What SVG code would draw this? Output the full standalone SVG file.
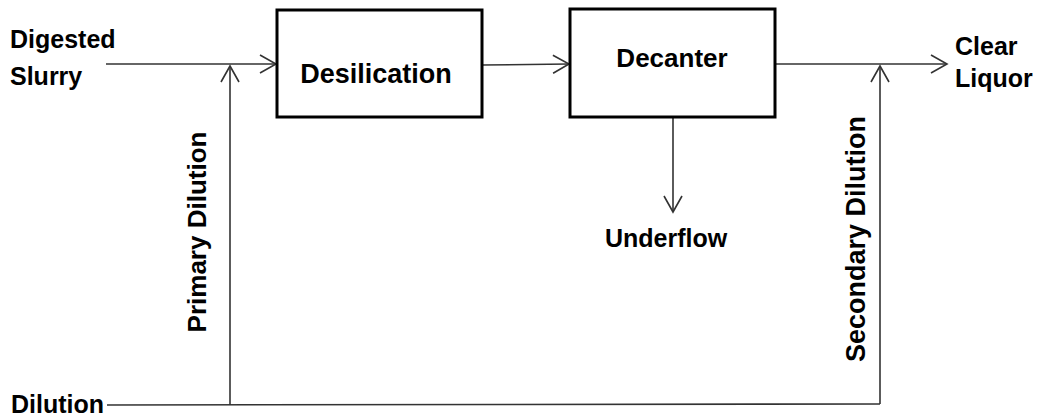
<svg xmlns="http://www.w3.org/2000/svg" width="1037" height="417" viewBox="0 0 1037 417">
<style>
text{font-family:"Liberation Sans",Arial,sans-serif;font-weight:bold;font-size:25px;fill:#000}
.big{font-size:27px}
.box{fill:#fff;stroke:#000;stroke-width:3}
.ln{fill:none;stroke:#333;stroke-width:1.6}
.arr{marker-end:url(#ah)}
</style>
<defs>
<marker id="ah" markerUnits="userSpaceOnUse" markerWidth="20" markerHeight="22" viewBox="-17 -10 20 20" refX="0" refY="0" orient="auto">
<path d="M-16,-9 L0,0 L-16,9" fill="none" stroke="#333" stroke-width="1.6"/>
</marker>
</defs>
<rect width="1037" height="417" fill="#fff"/>
<g id="connectors">
<path class="ln arr" d="M106,64 H276"/>
<path class="ln arr" d="M482,65 L569,64"/>
<path class="ln arr" d="M775,64 H947"/>
<path class="ln arr" d="M673,118 V212"/>
<path class="ln" d="M107,405 L880,404"/>
<path class="ln arr" d="M230,405 V66"/>
<path class="ln arr" d="M880,404 V66"/>
</g>
<g id="desilication">
<rect class="box" x="277" y="10" width="205" height="107"/>
<text class="big" x="376" y="83" text-anchor="middle">Desilication</text>
</g>
<g id="decanter">
<rect class="box" x="570" y="9" width="205" height="108"/>
<text x="672" y="67" text-anchor="middle" style="font-size:26px">Decanter</text>
</g>
<g id="digested-slurry">
<text x="10" y="48">Digested</text>
<text x="10" y="85">Slurry</text>
</g>
<g id="clear-liquor">
<text x="955" y="55">Clear</text>
<text x="955" y="87">Liquor</text>
</g>
<g id="underflow">
<text x="605" y="247">Underflow</text>
</g>
<g id="dilution">
<text x="11" y="413">Dilution</text>
</g>
<g id="primary-dilution-label">
<text transform="translate(206,232) rotate(-90)" text-anchor="middle" style="font-size:26px">Primary Dilution</text>
</g>
<g id="secondary-dilution-label">
<text class="big" transform="translate(865,239) rotate(-90)" text-anchor="middle">Secondary Dilution</text>
</g>
</svg>
